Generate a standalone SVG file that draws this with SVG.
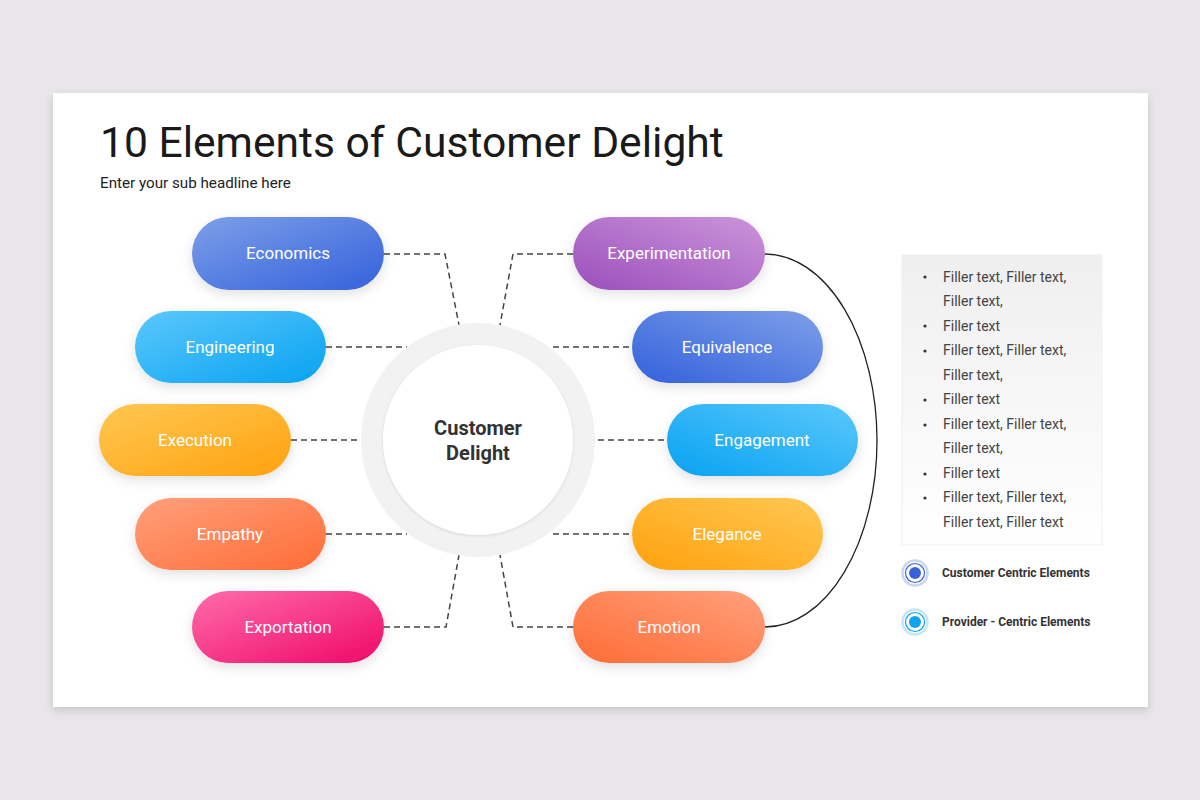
<svg xmlns="http://www.w3.org/2000/svg" width="1200" height="800" viewBox="0 0 1200 800">
<defs>
<filter id="card" x="-5%" y="-5%" width="110%" height="115%"><feDropShadow dx="0" dy="3" stdDeviation="4" flood-color="#000" flood-opacity="0.15"/></filter>
<filter id="soft" x="-20%" y="-30%" width="140%" height="170%"><feDropShadow dx="0" dy="4" stdDeviation="6" flood-color="#000" flood-opacity="0.12"/></filter>
<filter id="inner" x="-10%" y="-10%" width="120%" height="120%"><feDropShadow dx="0" dy="1" stdDeviation="1.5" flood-color="#000" flood-opacity="0.12"/></filter>
<linearGradient id="gEco" x1="0" y1="0" x2="1" y2="1"><stop offset="0" stop-color="#7d9fe8"/><stop offset="1" stop-color="#3461dc"/></linearGradient>
<linearGradient id="gEng" x1="0" y1="0" x2="1" y2="1"><stop offset="0" stop-color="#5bc8fc"/><stop offset="1" stop-color="#08a2f1"/></linearGradient>
<linearGradient id="gExe" x1="0" y1="0" x2="1" y2="1"><stop offset="0" stop-color="#ffc853"/><stop offset="1" stop-color="#ffa10e"/></linearGradient>
<linearGradient id="gEmp" x1="0" y1="0" x2="1" y2="1"><stop offset="0" stop-color="#ffa07c"/><stop offset="1" stop-color="#ff6c36"/></linearGradient>
<linearGradient id="gExp" x1="0" y1="0" x2="1" y2="1"><stop offset="0" stop-color="#ff6cab"/><stop offset="1" stop-color="#ef0868"/></linearGradient>
<linearGradient id="gExr" x1="0" y1="1" x2="1" y2="0"><stop offset="0" stop-color="#9b4fbc"/><stop offset="1" stop-color="#cb95da"/></linearGradient>
<linearGradient id="gEqu" x1="0" y1="1" x2="1" y2="0"><stop offset="0" stop-color="#3461dc"/><stop offset="1" stop-color="#7d9fe8"/></linearGradient>
<linearGradient id="gEnga" x1="0" y1="1" x2="1" y2="0"><stop offset="0" stop-color="#08a2f1"/><stop offset="1" stop-color="#5bc8fc"/></linearGradient>
<linearGradient id="gEle" x1="0" y1="1" x2="1" y2="0"><stop offset="0" stop-color="#ffa10e"/><stop offset="1" stop-color="#ffc853"/></linearGradient>
<linearGradient id="gEmo" x1="0" y1="1" x2="1" y2="0"><stop offset="0" stop-color="#ff6c36"/><stop offset="1" stop-color="#ffa07c"/></linearGradient>
<linearGradient id="gBox" x1="0" y1="0" x2="0" y2="1"><stop offset="0" stop-color="#efefef"/><stop offset="1" stop-color="#ffffff"/></linearGradient>
<style>
.pill{filter:url(#soft)}
.lbl{font-family:Roboto,"Liberation Sans",sans-serif;font-size:17px;fill:#fff;text-anchor:middle}
.dash{fill:none;stroke:#444;stroke-width:1.5;stroke-dasharray:6 4}
.body{font-family:Roboto,"Liberation Sans",sans-serif;font-size:14px;fill:#444}
.leg{font-family:Roboto,"Liberation Sans",sans-serif;font-size:12px;font-weight:bold;fill:#333}
</style>
</defs>
<rect width="1200" height="800" fill="#e8e6e8"/>
<rect x="53" y="93" width="1095" height="614" fill="#fff" filter="url(#card)"/>
<text x="100" y="157" font-family="Roboto,'Liberation Sans',sans-serif" font-size="42.6" fill="#1a1a1a">10 Elements of Customer Delight</text>
<text x="100" y="188" font-family="Roboto,'Liberation Sans',sans-serif" font-size="15.2" fill="#222">Enter your sub headline here</text>

<g id="connectors">
<path class="dash" d="M384,254 H445 L459,325"/>
<path class="dash" d="M573,254 H513 L500,325"/>
<path class="dash" d="M326,347 H407"/>
<path class="dash" d="M553,347 H632"/>
<path class="dash" d="M291,440 H361"/>
<path class="dash" d="M598,440 H667"/>
<path class="dash" d="M326,534 H407"/>
<path class="dash" d="M553,534 H632"/>
<path class="dash" d="M384,627 H446 L459,555"/>
<path class="dash" d="M573,627 H513 L500,555"/>
<path d="M765,254 A112 186.5 0 0 1 765,627" fill="none" stroke="#222" stroke-width="1.3"/>
</g>

<g id="center">
<circle cx="478" cy="440" r="117" fill="#f2f2f2"/>
<circle cx="478" cy="440" r="95" fill="#fff" filter="url(#inner)"/>
<text x="478" y="435" text-anchor="middle" font-family="Roboto,'Liberation Sans',sans-serif" font-size="20" font-weight="bold" fill="#333">Customer</text>
<text x="478" y="460" text-anchor="middle" font-family="Roboto,'Liberation Sans',sans-serif" font-size="20" font-weight="bold" fill="#333">Delight</text>
</g>

<g id="economics"><rect class="pill" x="192" y="217" width="192" height="73" rx="36.5" fill="url(#gEco)"/><text class="lbl" x="288" y="259">Economics</text></g>
<g id="engineering"><rect class="pill" x="135" y="311" width="191" height="72" rx="36" fill="url(#gEng)"/><text class="lbl" x="230" y="353">Engineering</text></g>
<g id="execution"><rect class="pill" x="99" y="404" width="192" height="72" rx="36" fill="url(#gExe)"/><text class="lbl" x="195" y="446">Execution</text></g>
<g id="empathy"><rect class="pill" x="135" y="498" width="191" height="72" rx="36" fill="url(#gEmp)"/><text class="lbl" x="230" y="540">Empathy</text></g>
<g id="exportation"><rect class="pill" x="192" y="591" width="192" height="72" rx="36" fill="url(#gExp)"/><text class="lbl" x="288" y="633">Exportation</text></g>

<g id="experimentation"><rect class="pill" x="573" y="217" width="192" height="73" rx="36.5" fill="url(#gExr)"/><text class="lbl" x="669" y="259">Experimentation</text></g>
<g id="equivalence"><rect class="pill" x="632" y="311" width="191" height="72" rx="36" fill="url(#gEqu)"/><text class="lbl" x="727" y="353">Equivalence</text></g>
<g id="engagement"><rect class="pill" x="667" y="404" width="191" height="72" rx="36" fill="url(#gEnga)"/><text class="lbl" x="762" y="446">Engagement</text></g>
<g id="elegance"><rect class="pill" x="632" y="498" width="191" height="72" rx="36" fill="url(#gEle)"/><text class="lbl" x="727" y="540">Elegance</text></g>
<g id="emotion"><rect class="pill" x="573" y="591" width="192" height="72" rx="36" fill="url(#gEmo)"/><text class="lbl" x="669" y="633">Emotion</text></g>

<g id="textbox">
<rect x="902" y="255" width="200" height="290" fill="url(#gBox)" stroke="#f0f0f0" stroke-width="1"/>
<g fill="#333">
<circle cx="925" cy="277" r="1.6"/><circle cx="925" cy="326" r="1.6"/><circle cx="925" cy="351" r="1.6"/><circle cx="925" cy="400" r="1.6"/><circle cx="925" cy="425" r="1.6"/><circle cx="925" cy="474" r="1.6"/><circle cx="925" cy="498" r="1.6"/>
</g>
<text class="body" x="943" y="282">Filler text, Filler text,</text>
<text class="body" x="943" y="306">Filler text,</text>
<text class="body" x="943" y="331">Filler text</text>
<text class="body" x="943" y="355">Filler text, Filler text,</text>
<text class="body" x="943" y="380">Filler text,</text>
<text class="body" x="943" y="404">Filler text</text>
<text class="body" x="943" y="429">Filler text, Filler text,</text>
<text class="body" x="943" y="453">Filler text,</text>
<text class="body" x="943" y="478">Filler text</text>
<text class="body" x="943" y="502">Filler text, Filler text,</text>
<text class="body" x="943" y="527">Filler text, Filler text</text>
</g>

<g id="legend-customer">
<circle cx="915" cy="573" r="12.5" fill="none" stroke="#c9d6f5" stroke-width="2.5"/>
<circle cx="915" cy="573" r="9.5" fill="none" stroke="#3a62d8" stroke-width="1.2"/>
<circle cx="915" cy="573" r="6" fill="#3a62d8"/>
<text class="leg" x="942" y="577">Customer Centric Elements</text>
</g>
<g id="legend-provider">
<circle cx="915" cy="622" r="12.5" fill="none" stroke="#c4e6fb" stroke-width="2.5"/>
<circle cx="915" cy="622" r="9.5" fill="none" stroke="#10a4f0" stroke-width="1.2"/>
<circle cx="915" cy="622" r="6" fill="#10a4f0"/>
<text class="leg" x="942" y="626">Provider - Centric Elements</text>
</g>
</svg>
